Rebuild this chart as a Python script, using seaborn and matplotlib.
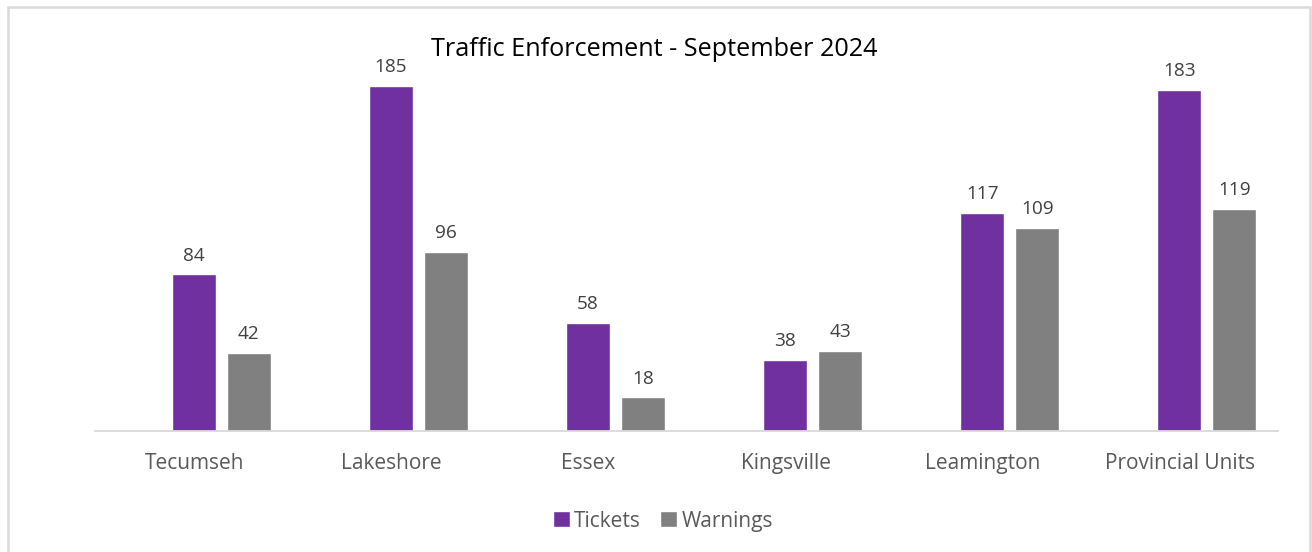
import matplotlib
matplotlib.use("Agg")
import matplotlib.pyplot as plt
import matplotlib.transforms as mtransforms
from matplotlib.patches import Rectangle
import pandas as pd
import seaborn as sns

# --- data ---
districts = ["Tecumseh", "Lakeshore", "Essex", "Kingsville", "Leamington", "Provincial Units"]
tickets = [84, 185, 58, 38, 117, 183]
warnings_ = [42, 96, 18, 43, 109, 119]
series = ["Tickets", "Warnings"]
colors = ["#7030A0", "#808080"]

df = pd.DataFrame({
    "District": districts * 2,
    "Type": [series[0]] * len(districts) + [series[1]] * len(districts),
    "Count": tickets + warnings_,
})

sns.set_style("white")
plt.rcParams["font.family"] = ["Open Sans", "DejaVu Sans"]

fig = plt.figure(figsize=(13.12, 5.52), dpi=100)
ax = fig.add_axes([0.0724, 0.2192, 0.9016, 0.676])

sns.barplot(data=df, x="District", y="Count", hue="Type", palette=colors,
            saturation=1, width=0.558, gap=0.2, ax=ax, legend=True)

ax.set_ylim(0, 200)
ax.set_xlim(-0.64, 5.36)
for s in ["top", "right", "left"]:
    ax.spines[s].set_visible(False)
ax.spines["bottom"].set_color("#D9D9D9")
ax.spines["bottom"].set_linewidth(1.3)
ax.set_yticks([])
ax.set_xlabel("")
ax.set_ylabel("")
ax.tick_params(axis="x", length=0, labelsize=15, colors="#595959", pad=16)

# tick labels sit a little left of the bar groups
shift = mtransforms.ScaledTranslation(-0.27, 0, fig.dpi_scale_trans)
for lab in ax.get_xticklabels():
    lab.set_transform(lab.get_transform() + shift)

for cont in ax.containers:
    ax.bar_label(cont, fmt="%d", padding=7.0, fontsize=13.7, color="#404040")

ax.legend(loc="upper center", bbox_to_anchor=(0.48, -0.163), ncol=2, frameon=False,
          fontsize=15, handlelength=0.8, handleheight=0.8, handletextpad=0.2,
          columnspacing=0.95, labelcolor="#595959")

fig.text(0.4985, 0.911, "Traffic Enforcement - September 2024", ha="center", va="center",
         fontsize=18.2, color="#000000")

fig.patches.append(Rectangle((8 / 1312, -10 / 552), 1302 / 1312, 555 / 552, transform=fig.transFigure,
                             fill=False, edgecolor="#D9D9D9", linewidth=1.8))

fig.savefig("out.png", dpi=100)
